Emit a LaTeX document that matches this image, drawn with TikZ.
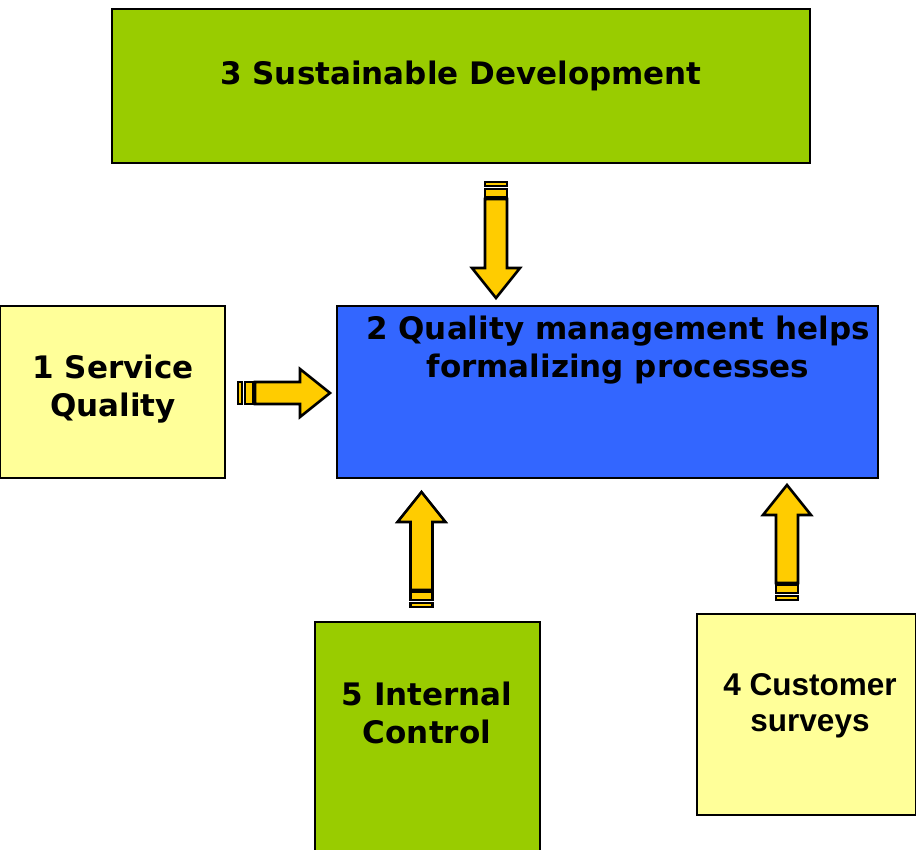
\documentclass[tikz,border=0pt]{standalone}
\usepackage{fontspec}
\setmainfont{DejaVu Sans}
\newfontfamily\arialfont{Liberation Sans}
\usetikzlibrary{calc}
\definecolor{leaf}{HTML}{99CC00}
\definecolor{paleyellow}{HTML}{FFFF99}
\definecolor{royal}{HTML}{3366FF}
\definecolor{gold}{HTML}{FFCC00}

\begin{document}
\begin{tikzpicture}[x=1pt,y=-1pt,
    box/.style={draw=black,line width=2.4pt,inner sep=0pt,outer sep=0pt},
    boxtext/.style={font=\fontsize{31}{38.5}\selectfont\bfseries,align=center,inner sep=0pt},
    arrowpart/.style={draw=black,fill=gold,line width=2.6pt,line join=miter},
    pics/fatarrow/.style={code={
        \draw[arrowpart] (0,-11) rectangle (4,11);
        \draw[arrowpart] (7,-11) rectangle (15,11);
        \draw[arrowpart] (17,-11) -- (#1-30,-11) -- (#1-30,-24) -- (#1,0)
            -- (#1-30,24) -- (#1-30,11) -- (17,11) -- cycle;
    }}]
    \useasboundingbox (0,0) rectangle (916,850);
    % boxes
    \node[box,fill=leaf,minimum width=698,minimum height=154] (sd) at (461,86) {};
    \node[box,fill=paleyellow,minimum width=225,minimum height=172] (sq) at (112.5,392) {};
    \node[box,fill=royal,minimum width=541,minimum height=172] (qm) at (607.5,392) {};
    \node[box,fill=leaf,minimum width=225,minimum height=232] (ic) at (427.5,738) {};
    \node[box,fill=paleyellow,minimum width=219,minimum height=201] (cs) at (806.5,714.5) {};
    % texts
    \node[boxtext] (sdtext) at (461,76) {3 Sustainable Development};
    \node[boxtext] (sqtext) at (113,389) {1 Service\\Quality};
    \node[boxtext] (qmtext) at (618,350) {2 Quality management helps\\formalizing processes};
    \node[boxtext] (ictext) at (427,713) {5 Internal\\Control};
    \node[boxtext,font=\fontsize{31.5}{36}\selectfont\arialfont\bfseries] (cstext) at (810,706) {4 Customer\\surveys};
    % arrows
    \pic[rotate=-90] at ($(sd.south)+(35,19)$) {fatarrow=116};
    \pic at ($(sq.east)+(13,1)$) {fatarrow=92};
    \pic[rotate=90] at ($(ic.north)+(-6,-15)$) {fatarrow=115};
    \pic[rotate=90] at ($(cs.north)+(-19.5,-14)$) {fatarrow=115};
\end{tikzpicture}
\end{document}
